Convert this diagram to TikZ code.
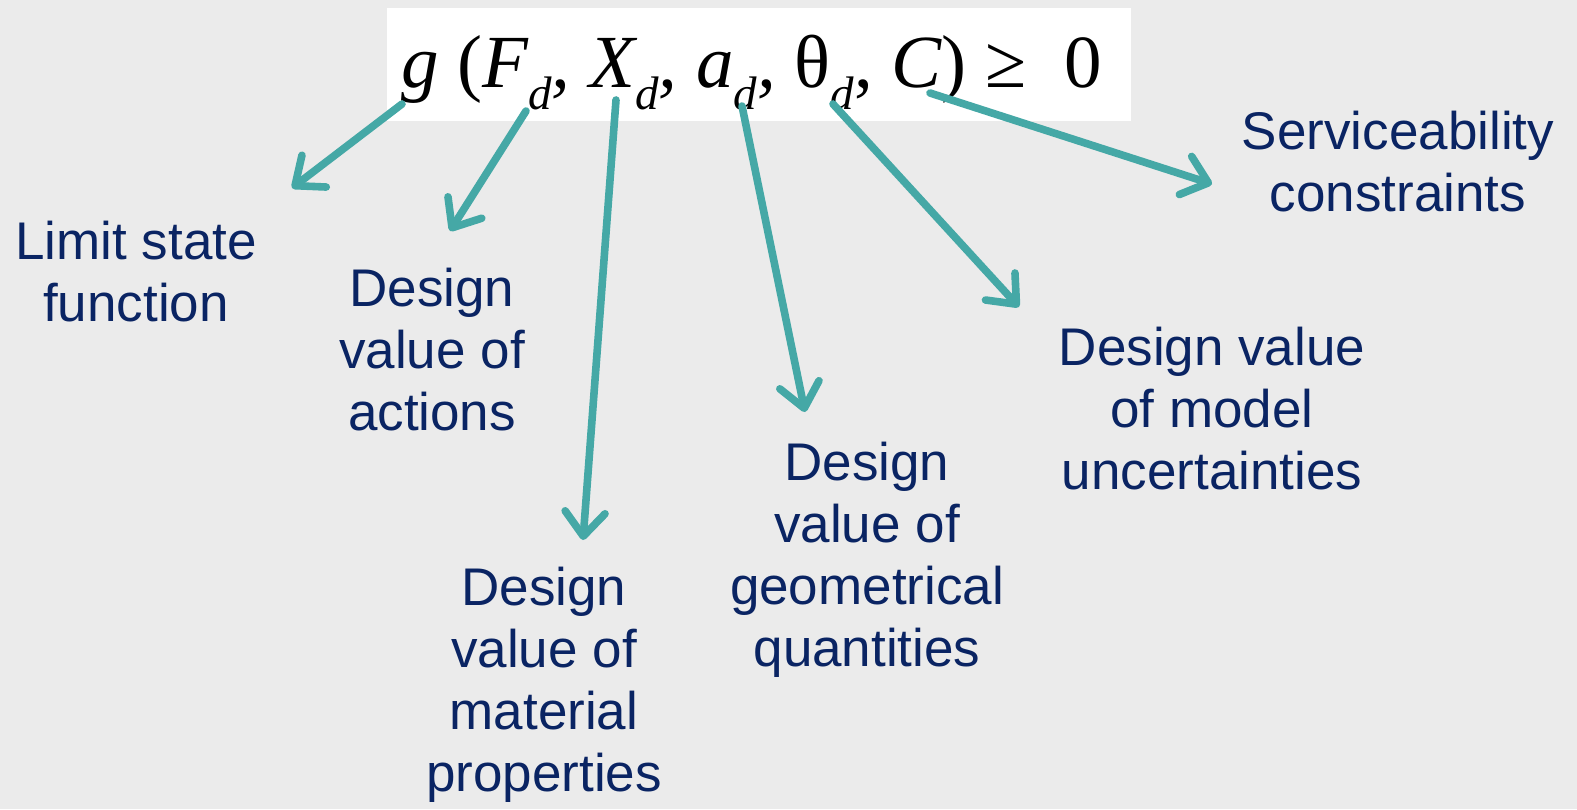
\documentclass[tikz,border=0pt]{standalone}
\usepackage{fontspec}
\setmainfont{Liberation Sans}
\newfontfamily\tnr{Liberation Serif}
\usetikzlibrary{arrows.meta}
\definecolor{bg}{HTML}{EBEBEB}
\definecolor{teal}{HTML}{45A8A6}
\definecolor{navy}{HTML}{0A2463}
\newcommand{\sbd}{\raisebox{-0.3em}{\fontsize{23.5pt}{23.5pt}\selectfont\itshape d}}
\tikzset{
  lbl/.style={text=navy, align=center, inner sep=0pt, font=\fontsize{26.5pt}{31pt}\selectfont},
  arr/.style={draw=teal, line width=3.8pt, line cap=round,
    -{Straight Barb[round, length=12pt, width=20pt]}}
}
\begin{document}
\begin{tikzpicture}[x=0.5pt,y=-0.5pt]
\useasboundingbox (0,0) rectangle (1577,809);
\fill[bg] (0,0) rectangle (1577,809);
\fill[white] (387,8) rectangle (1131,121);
\node[anchor=base west, inner sep=0pt, font=\tnr\fontsize{37.5pt}{37.5pt}\selectfont] (f) at (401,87)
  {\itshape g\upshape\ (\itshape F\sbd, X\sbd, a\sbd, \upshape θ\sbd, \itshape C\upshape)\ ≥\ \ 0};
\node[lbl] (ls) at (136,272) {Limit state\\function};
\node[lbl] (act) at (432,350) {Design\\value of\\actions};
\node[lbl] (mat) at (544,685) {Design\\value of\\material\\properties};
\node[lbl] (geo) at (867,560) {Design\\value of\\geometrical\\quantities};
\node[lbl] (mod) at (1212,409) {Design value\\of model\\uncertainties};
\node[lbl] (ser) at (1398,162) {Serviceability\\constraints};
\coordinate (s1) at (402,104); \coordinate (t1) at (292,188);
\coordinate (s2) at (526,111); \coordinate (t2) at (450,231);
\coordinate (s3) at (616,100); \coordinate (t3) at (583,540);
\coordinate (s4) at (742,106); \coordinate (t4) at (805,412);
\coordinate (s5) at (833,104); \coordinate (t5) at (1019,307);
\coordinate (s6) at (930,93);  \coordinate (t6) at (1212,184);
\draw[arr] (s1) -- (t1);
\draw[arr] (s2) -- (t2);
\draw[arr] (s3) -- (t3);
\draw[arr] (s4) -- (t4);
\draw[arr] (s5) -- (t5);
\draw[arr] (s6) -- (t6);
\end{tikzpicture}
\end{document}
